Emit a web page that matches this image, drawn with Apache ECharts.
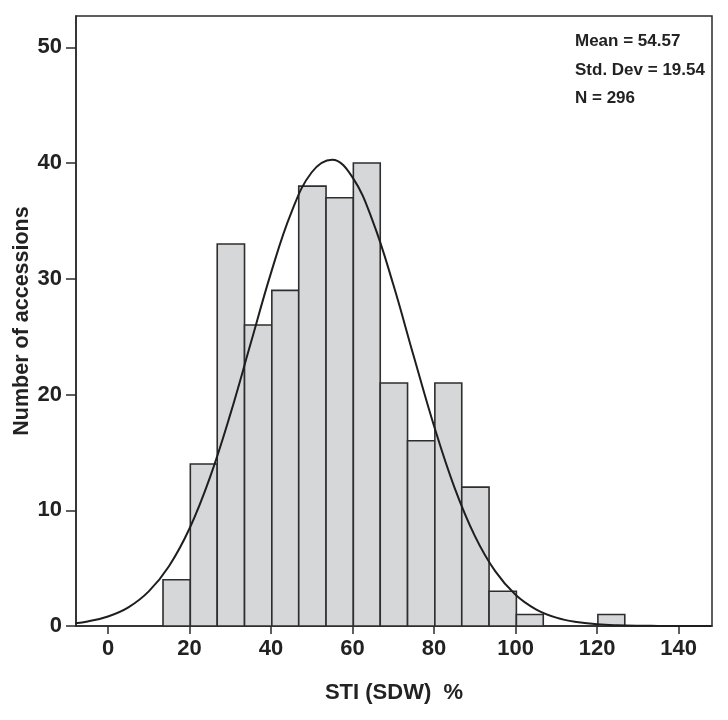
<!DOCTYPE html>
<html>
<head>
<meta charset="utf-8">
<script src="https://cdn.jsdelivr.net/npm/echarts@6/dist/echarts.min.js"></script>
<style>
html,body{margin:0;padding:0;background:#fff;}
#c{width:728px;height:720px;}
</style>
</head>
<body>
<div id="c"></div>
<script>
// Histogram bins (lower edge, upper edge) and counts
var binLo  = [13.5, 20.2, 26.8, 33.5, 40.2, 46.8, 53.5, 60.2, 66.8, 73.5, 80.2, 86.8, 93.5, 100.2, 120.2];
var binHi  = [20.2, 26.8, 33.5, 40.2, 46.8, 53.5, 60.2, 66.8, 73.5, 80.2, 86.8, 93.5, 100.2, 106.8, 126.8];
var counts = [4, 14, 33, 26, 29, 38, 37, 40, 21, 16, 21, 12, 3, 1, 1];

// Normal curve, read at steps of 5 from the picture
var curveX = [-8, -5, 0, 5, 10, 15, 20, 25, 30, 35, 40, 45, 50, 55, 60, 65, 70, 75, 80, 85, 90, 95, 100, 105, 110, 115, 120, 125, 130, 135, 140, 148];
var curveY = [0.24, 0.39, 0.82, 1.61, 2.99, 5.19, 8.42, 12.82, 18.28, 24.40, 30.51, 35.74, 39.20, 40.28, 38.76, 34.94, 29.50, 23.32, 17.28, 11.98, 7.79, 4.74, 2.70, 1.44, 0.72, 0.34, 0.15, 0.06, 0.02, 0.01, 0.0, 0.0];

var xTicks = [0, 20, 40, 60, 80, 100, 120, 140];
var yTicks = [0, 10, 20, 30, 40, 50];
var statsLines = ['Mean = 54.57', 'Std. Dev = 19.54', 'N = 296'];
var xTitle = 'STI (SDW)  %';
var yTitle = 'Number of accessions';

var barData = binLo.map(function (lo, i) { return [lo, binHi[i], counts[i]]; });
var curveData = curveX.map(function (x, i) { return [x, curveY[i]]; });

var axisFont = '"Liberation Sans Narrow", "Liberation Sans", Arial, sans-serif';
var chart = echarts.init(document.getElementById('c'));
chart.setOption({
  animation: false,
  backgroundColor: '#fff',
  grid: { left: 76, right: 16, top: 16, bottom: 94, outerBoundsMode: 'none', containLabel: false, show: true, borderColor: '#2a2a2a', borderWidth: 1.5, backgroundColor: 'transparent' },
  xAxis: {
    type: 'value', min: -7.85, max: 148.2,
    name: xTitle, nameLocation: 'middle', nameGap: 56,
    nameTextStyle: { fontFamily: 'Liberation Sans, Arial, sans-serif', fontWeight: 'bold', fontSize: 22, color: '#222' },
    axisLine: { show: true, onZero: false, lineStyle: { color: '#2a2a2a', width: 1.5 } },
    axisTick: { show: true, length: 8, customValues: xTicks, lineStyle: { color: '#2a2a2a', width: 1.5 } },
    axisLabel: { customValues: xTicks, margin: 12, fontFamily: axisFont, fontWeight: 'bold', fontSize: 22, color: '#222' },
    splitLine: { show: false }
  },
  yAxis: {
    type: 'value', min: 0, max: 52.7,
    name: yTitle, nameLocation: 'middle', nameGap: 43, nameRotate: 90, nameMoveOverlap: false,
    nameTextStyle: { fontFamily: 'Liberation Sans, Arial, sans-serif', fontWeight: 'bold', fontSize: 21.5, color: '#222' },
    axisLine: { show: true, onZero: false, lineStyle: { color: '#2a2a2a', width: 1.5 } },
    axisTick: { show: true, length: 10, customValues: yTicks, lineStyle: { color: '#2a2a2a', width: 1.5 } },
    axisLabel: { customValues: yTicks, margin: 14, fontFamily: axisFont, fontWeight: 'bold', fontSize: 22, color: '#222' },
    splitLine: { show: false }
  },
  series: [
    {
      type: 'custom',
      data: barData,
      encode: { x: [0, 1], y: 2 },
      renderItem: function (params, api) {
        var p0 = api.coord([api.value(0), api.value(2)]);
        var p1 = api.coord([api.value(1), 0]);
        return {
          type: 'rect',
          shape: { x: p0[0], y: p0[1], width: p1[0] - p0[0], height: p1[1] - p0[1] },
          style: { fill: '#d6d7d9', stroke: '#2e2e2e', lineWidth: 1.6 }
        };
      },
      z: 2
    },
    {
      type: 'line',
      data: curveData,
      smooth: 0.4,
      showSymbol: false,
      lineStyle: { color: '#1e1e1e', width: 2 },
      z: 5
    }
  ],
  graphic: statsLines.map(function (t, i) {
    return {
      type: 'text', left: 575, top: 33 + i * 28.5,
      style: { text: t, fontFamily: axisFont, fontWeight: 'bold', fontSize: 17, fill: '#222' },
      z: 10
    };
  })
});
</script>
</body>
</html>
